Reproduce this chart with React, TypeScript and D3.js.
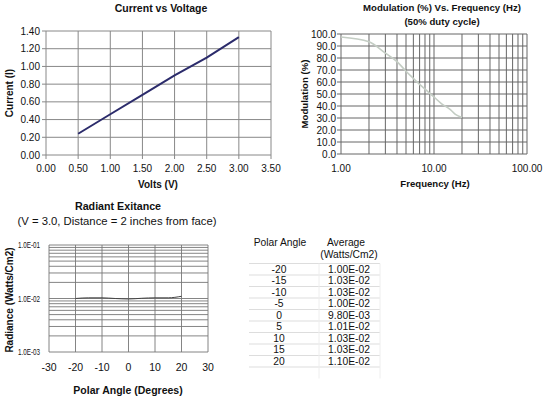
import React, { useRef, useEffect } from 'react';
import * as d3 from 'd3';

const volts = [0.5, 1.0, 1.5, 2.0, 2.5, 3.0];
const current = [0.24, 0.46, 0.68, 0.9, 1.1, 1.33];

const freq = [1, 2, 3, 4, 5, 6, 7, 8, 10, 12, 15, 17, 20];
const modulation = [97.5, 93.5, 84, 77, 69, 63, 58, 54, 47.5, 42, 37, 33, 30.5];

const polarAngle = [-20, -15, -10, -5, 0, 5, 10, 15, 20];
const radiance = [1.0e-2, 1.03e-2, 1.03e-2, 1.0e-2, 9.8e-3, 1.01e-2, 1.03e-2, 1.03e-2, 1.1e-2];
const radianceLabels = ['1.00E-02', '1.03E-02', '1.03E-02', '1.00E-02', '9.80E-03', '1.01E-02', '1.03E-02', '1.03E-02', '1.10E-02'];

const FONT = 'Liberation Sans, Arial, sans-serif';

function App() {
  const svgRef = useRef<SVGSVGElement>(null);

  useEffect(() => {
    const svg = d3.select(svgRef.current);
    svg.selectAll('*').remove();
    svg.attr('font-family', FONT);

    const label = (x: number, y: number, t: string, size: number, bold = false, rotate = false) => {
      const el = svg.append('text')
        .attr('text-anchor', 'middle')
        .attr('font-size', size)
        .attr('font-weight', bold ? 'bold' : 'normal')
        .attr('fill', '#111')
        .text(t);
      if (rotate) el.attr('transform', `translate(${x},${y}) rotate(-90)`);
      else el.attr('x', x).attr('y', y);
      return el;
    };

    // ---- chart 1: current vs voltage
    const x1 = d3.scaleLinear().domain([0, 3.5]).range([46, 271]);
    const y1 = d3.scaleLinear().domain([0, 1.4]).range([155, 31]);
    const g1 = svg.append('g');
    g1.selectAll('.v').data(d3.range(0, 3.51, 0.5)).join('line')
      .attr('x1', d => x1(d)).attr('x2', d => x1(d))
      .attr('y1', y1(0)).attr('y2', y1(1.4))
      .attr('stroke', '#888').attr('stroke-width', 1);
    g1.selectAll('.h').data(d3.range(0, 1.41, 0.2)).join('line')
      .attr('class', 'h')
      .attr('x1', x1(0) - 4).attr('x2', x1(3.5))
      .attr('y1', d => y1(d)).attr('y2', d => y1(d))
      .attr('stroke', '#888').attr('stroke-width', 1);
    g1.append('g').selectAll('line').data(d3.range(0, 3.51, 0.5)).join('line')
      .attr('x1', d => x1(d)).attr('x2', d => x1(d))
      .attr('y1', y1(0)).attr('y2', y1(0) + 4)
      .attr('stroke', '#888');
    g1.append('g').selectAll('text').data(d3.range(0, 1.41, 0.2)).join('text')
      .attr('x', x1(0) - 6).attr('y', d => y1(d) + 3.5)
      .attr('text-anchor', 'end').attr('font-size', 10).attr('fill', '#111')
      .text(d => d.toFixed(2));
    g1.append('g').selectAll('text').data(d3.range(0, 3.51, 0.5)).join('text')
      .attr('x', d => x1(d)).attr('y', 172)
      .attr('text-anchor', 'middle').attr('font-size', 10).attr('fill', '#111')
      .text(d => d.toFixed(2));
    g1.append('path')
      .datum(volts.map((v, i) => [v, current[i]] as [number, number]))
      .attr('d', d3.line().x(d => x1(d[0])).y(d => y1(d[1])))
      .attr('fill', 'none').attr('stroke', '#2b2b6b').attr('stroke-width', 2);
    label(161, 12, 'Current vs Voltage', 10.5, true);
    label(158, 188, 'Volts (V)', 10, true);
    label(13, 93, 'Current (I)', 10, true, true);

    // ---- chart 2: modulation vs frequency
    const x2 = d3.scaleLog().domain([1, 100]).range([341, 527]);
    const y2 = d3.scaleLinear().domain([0, 100]).range([154, 34]);
    const logTicks = [1, 2, 3, 4, 5, 6, 7, 8, 9, 10, 20, 30, 40, 50, 60, 70, 80, 90, 100];
    const g2 = svg.append('g');
    g2.selectAll('.v').data(logTicks).join('line')
      .attr('x1', d => x2(d)).attr('x2', d => x2(d))
      .attr('y1', y2(0)).attr('y2', y2(100))
      .attr('stroke', '#666').attr('stroke-width', 1);
    g2.append('g').selectAll('line').data(d3.range(0, 101, 10)).join('line')
      .attr('x1', x2(1) - 4).attr('x2', x2(100))
      .attr('y1', d => y2(d)).attr('y2', d => y2(d))
      .attr('stroke', '#666').attr('stroke-width', 1);
    g2.append('g').selectAll('text').data(d3.range(0, 101, 10)).join('text')
      .attr('x', x2(1) - 5).attr('y', d => y2(d) + 3.5)
      .attr('text-anchor', 'end').attr('font-size', 10).attr('fill', '#111')
      .text(d => d.toFixed(1));
    g2.append('g').selectAll('text').data([1, 10, 100]).join('text')
      .attr('x', d => x2(d)).attr('y', 172)
      .attr('text-anchor', 'middle').attr('font-size', 10).attr('fill', '#111')
      .text(d => d.toFixed(2));
    g2.append('path')
      .datum(freq.map((f, i) => [f, modulation[i]] as [number, number]))
      .attr('d', d3.line().x(d => x2(d[0])).y(d => y2(d[1])).curve(d3.curveMonotoneX))
      .attr('fill', 'none').attr('stroke', '#c4cdc4').attr('stroke-width', 1.6);
    label(442, 11, 'Modulation (%) Vs. Frequency (Hz)', 9.6, true);
    label(442, 25, '(50% duty cycle)', 9.6, true);
    label(435, 187, 'Frequency (Hz)', 9.6, true);
    label(308, 94, 'Modulation (%)', 9.6, true, true);

    // ---- chart 3: radiant exitance
    const x3 = d3.scaleLinear().domain([-30, 30]).range([49, 208]);
    const y3 = d3.scaleLog().domain([1e-3, 1e-1]).range([352, 245]);
    const yTicks3 = [
      ...d3.range(1, 10).map(k => k * 1e-3),
      ...d3.range(1, 10).map(k => k * 1e-2),
      1e-1,
    ];
    const g3 = svg.append('g');
    g3.selectAll('.h').data(yTicks3).join('line')
      .attr('x1', x3(-30)).attr('x2', x3(30))
      .attr('y1', d => y3(d)).attr('y2', d => y3(d))
      .attr('stroke', '#777').attr('stroke-width', 0.9);
    g3.append('g').selectAll('line').data(d3.range(-30, 31, 10)).join('line')
      .attr('x1', d => x3(d)).attr('x2', d => x3(d))
      .attr('y1', y3(1e-3)).attr('y2', y3(1e-1))
      .attr('stroke', '#777').attr('stroke-width', 0.9);
    g3.append('g').selectAll('text').data([1e-3, 1e-2, 1e-1]).join('text')
      .attr('x', 40).attr('y', d => y3(d) + 3)
      .attr('text-anchor', 'end').attr('font-size', 8.5).attr('fill', '#111')
      .attr('textLength', 22).attr('lengthAdjust', 'spacingAndGlyphs')
      .text(d => d.toExponential(1).replace('e-', 'E-0').toUpperCase());
    g3.append('g').selectAll('text').data(d3.range(-30, 31, 10)).join('text')
      .attr('x', d => x3(d)).attr('y', 371)
      .attr('text-anchor', 'middle').attr('font-size', 10.5).attr('fill', '#111')
      .text(d => d);
    g3.append('path')
      .datum(polarAngle.map((a, i) => [a, radiance[i]] as [number, number]))
      .attr('d', d3.line().x(d => x3(d[0])).y(d => y3(d[1])).curve(d3.curveMonotoneX))
      .attr('fill', 'none').attr('stroke', '#444').attr('stroke-width', 1);
    label(118, 210, 'Radiant Exitance', 10.7, true);
    label(117, 225, '(V = 3.0, Distance = 2 inches from face)', 11.3);
    label(128, 394, 'Polar Angle (Degrees)', 10.5, true);
    label(13, 300, 'Radiance (Watts/Cm2)', 10, true, true);

    // ---- table
    const rowY = d3.scaleLinear().domain([0, 1]).range([269, 280.5]);
    const gt = svg.append('g');
    label(280, 246, 'Polar Angle', 10.3);
    label(346, 246, 'Average', 10.3);
    label(349, 258, '(Watts/Cm2)', 10.3);
    gt.selectAll('.sep').data(d3.range(0, polarAngle.length + 1)).join('line')
      .attr('x1', 249).attr('x2', 380)
      .attr('y1', i => rowY(i) - 5.5).attr('y2', i => rowY(i) - 5.5)
      .attr('stroke', '#ddd').attr('stroke-width', 1);
    gt.append('g').selectAll('text').data(polarAngle).join('text')
      .attr('x', 279).attr('y', (d, i) => rowY(i) + 3.6)
      .attr('text-anchor', 'middle').attr('font-size', 10.3).attr('fill', '#111')
      .text(d => d);
    gt.append('g').selectAll('text').data(radianceLabels).join('text')
      .attr('x', 349).attr('y', (d, i) => rowY(i) + 3.6)
      .attr('text-anchor', 'middle').attr('font-size', 10.3).attr('fill', '#111')
      .text(d => d);
    gt.append('line')
      .attr('x1', 319).attr('x2', 319)
      .attr('y1', rowY(0) - 5.5).attr('y2', rowY(polarAngle.length) + 6)
      .attr('stroke', '#eee');
    gt.append('line')
      .attr('x1', 380).attr('x2', 380)
      .attr('y1', rowY(0) - 5.5).attr('y2', rowY(polarAngle.length) + 6)
      .attr('stroke', '#eee');
  }, []);

  return (
    <svg ref={svgRef} width={553} height={397}
      style={{ position: 'absolute', left: 0, top: 0, background: '#fff' }} />
  );
}

export default App;
